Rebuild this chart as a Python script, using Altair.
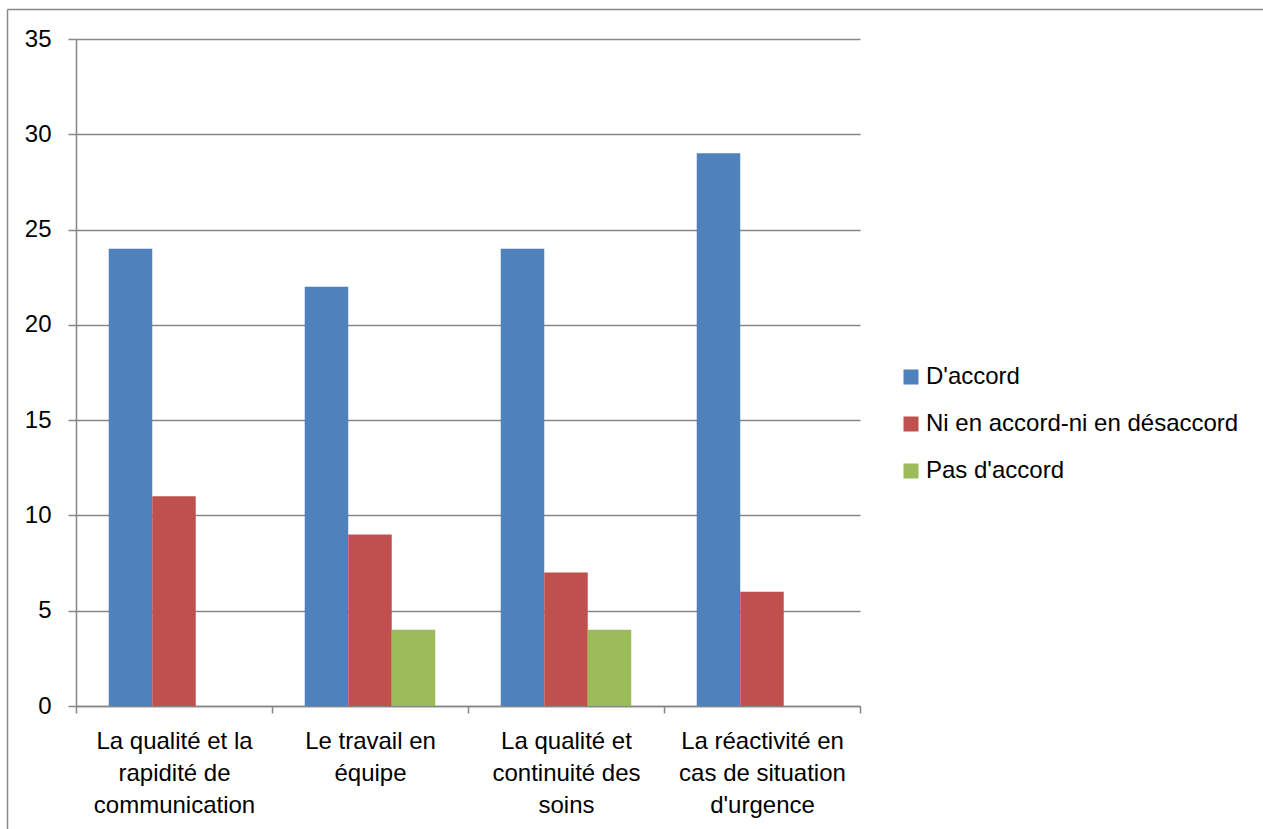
import json
import altair as alt
import pandas as pd

categories = [
    "La qualité et la rapidité de communication",
    "Le travail en équipe",
    "La qualité et continuité des soins",
    "La réactivité en cas de situation d'urgence",
]
label_lines = [
    ["La qualité et la", "rapidité de", "communication"],
    ["Le travail en", "équipe"],
    ["La qualité et", "continuité des", "soins"],
    ["La réactivité en", "cas de situation", "d'urgence"],
]
series = ["D'accord", "Ni en accord-ni en désaccord", "Pas d'accord"]
colors = ["#4F81BD", "#C0504D", "#9BBB59"]
d_accord = [24, 22, 24, 29]
ni_ni = [11, 9, 7, 6]
pas_accord = [0, 4, 4, 0]
y_ticks = [0, 5, 10, 15, 20, 25, 30, 35]

FONT = "Liberation Sans"
GRAY = "#868686"

rows = []
for s, vals in zip(series, [d_accord, ni_ni, pas_accord]):
    for c, v in zip(categories, vals):
        rows.append({"category": c, "series": s, "value": v})
df = pd.DataFrame(rows)

expr = "''"
for c, lines in reversed(list(zip(categories, label_lines))):
    expr = f"datum.value == {json.dumps(c)} ? {json.dumps(lines)} : ({expr})"

bars = alt.Chart(df).mark_bar().encode(
    x=alt.X(
        "category:N",
        sort=categories,
        scale=alt.Scale(paddingInner=0, paddingOuter=0),
        axis=alt.Axis(
            title=None,
            labelAngle=0,
            tickBand="extent",
            labelExpr=expr,
            labelFontSize=24,
            labelLineHeight=32,
            labelPadding=16,
            labelBaseline="top",
            tickSize=7,
            grid=False,
        ),
    ),
    xOffset=alt.XOffset(
        "series:N", sort=series, scale=alt.Scale(paddingOuter=0.753, paddingInner=0)
    ),
    y=alt.Y(
        "value:Q",
        scale=alt.Scale(domain=[0, 35]),
        axis=alt.Axis(
            title=None,
            values=y_ticks,
            grid=True,
            labelFontSize=24,
            labelPadding=17,
            tickSize=8,
        ),
    ),
    color=alt.Color(
        "series:N",
        sort=series,
        scale=alt.Scale(domain=series, range=colors),
        legend=alt.Legend(
            title=None,
            orient="none",
            legendX=823,
            legendY=326,
            symbolType="square",
            symbolSize=225,
            symbolStrokeWidth=0,
            labelFontSize=24,
            labelFont=FONT,
            labelOffset=3,
            rowPadding=23,
            labelLimit=400,
        ),
    ),
)

frame = pd.DataFrame({"k": [0]})
left_border = alt.Chart(frame).mark_rule(color="#898989", strokeWidth=1.5).encode(
    x=alt.value(-68.5), y=alt.value(-29.5), y2=alt.value(830)
)
top_border = alt.Chart(frame).mark_rule(color="#898989", strokeWidth=1.5).encode(
    x=alt.value(-68.5), x2=alt.value(1200), y=alt.value(-29.5)
)

chart = (
    alt.layer(bars, left_border, top_border)
    .properties(
        width=784,
        height=667,
        autosize=alt.AutoSizeParams(type="none"),
        padding={"left": 76, "top": 39, "right": 403, "bottom": 123},
    )
    .configure_view(stroke=None)
    .configure_axis(
        labelFont=FONT,
        labelColor="#000000",
        domainColor=GRAY,
        domainWidth=1.5,
        tickColor=GRAY,
        tickWidth=1.5,
        gridColor=GRAY,
        gridWidth=1.5,
    )
    .configure_legend(labelColor="#000000")
)

chart.save("out.html", embed_options={"renderer": "svg", "actions": False})
